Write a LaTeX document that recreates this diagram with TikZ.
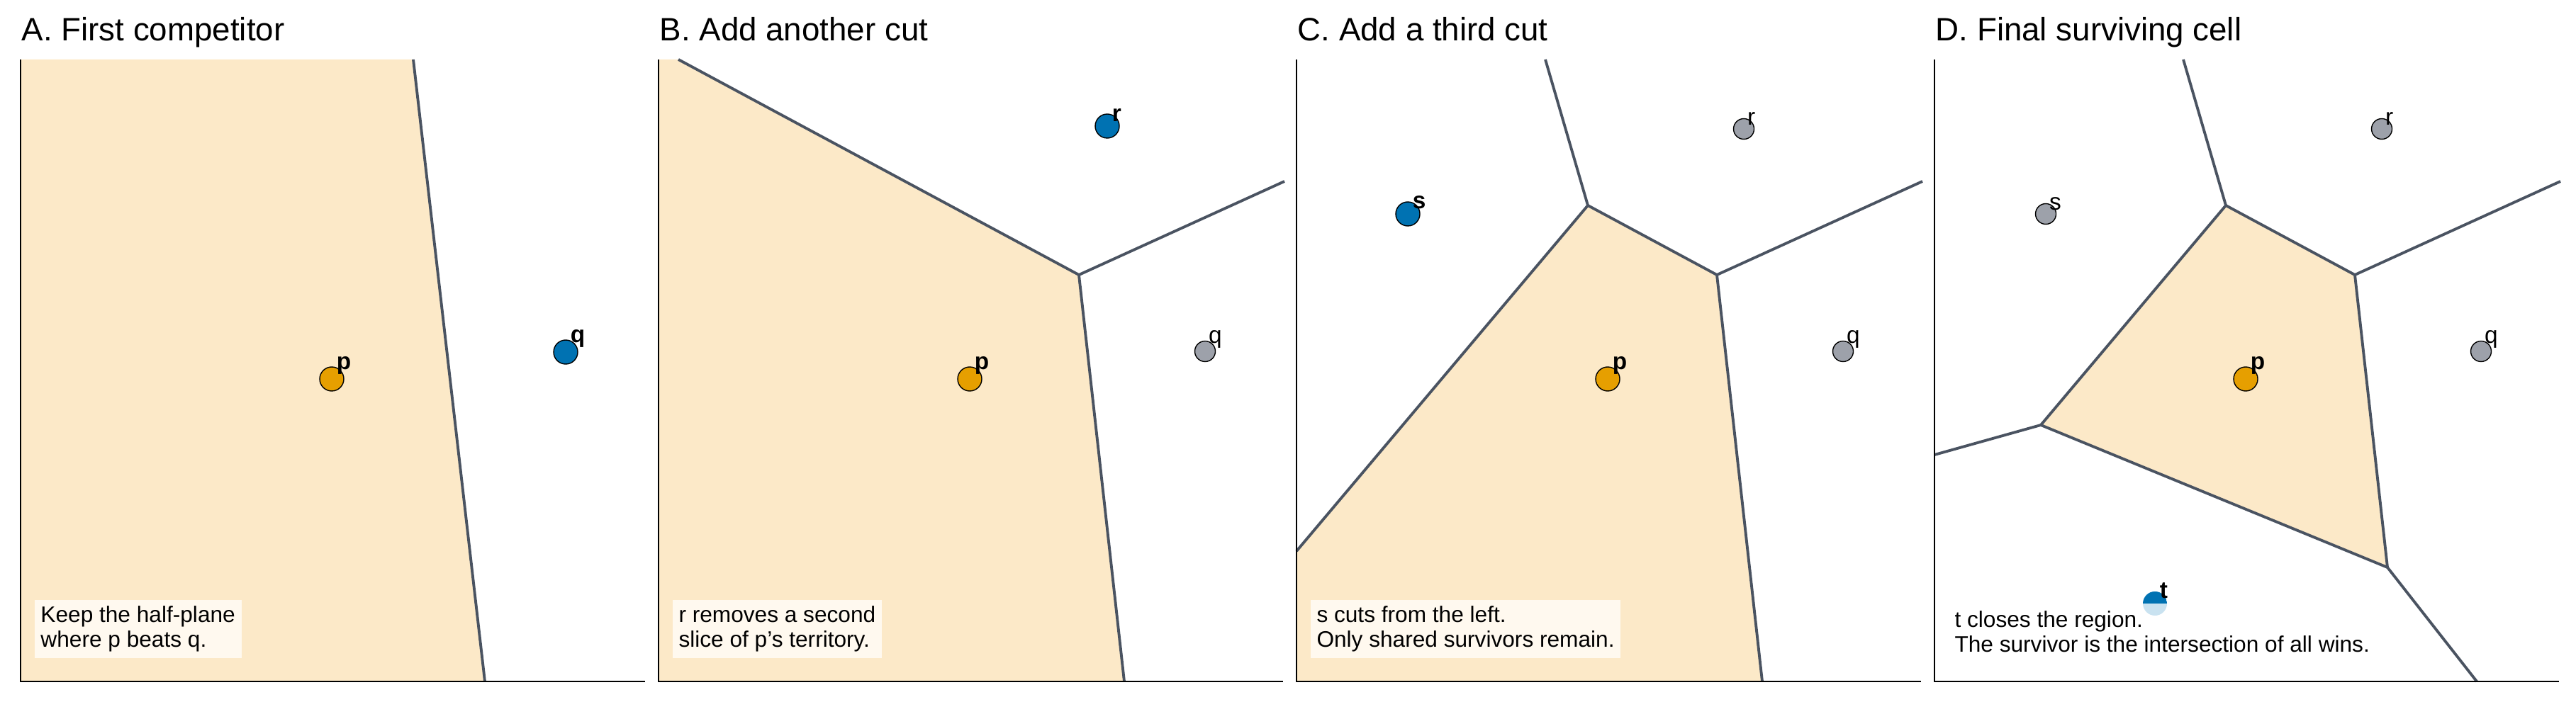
\documentclass[tikz,border=0pt]{standalone}
\usepackage{fontspec}
\setmainfont{Liberation Sans}
\usetikzlibrary{positioning}

\definecolor{cellcol}{HTML}{FCE9C8}
\definecolor{cutcol}{HTML}{4A5361}
\definecolor{pcol}{HTML}{E69F00}
\definecolor{newcol}{HTML}{0072B2}
\definecolor{newlight}{HTML}{C9E2F0}
\definecolor{oldcol}{HTML}{9DA1AA}
\definecolor{notecol}{HTML}{FFF9EF}

\tikzset{
    cellfill/.style={fill=cellcol, draw=none},
    cut/.style={draw=cutcol, line width=1.1pt, line join=round},
    frameline/.style={draw=black, line width=0.6pt},
    site/.style={circle, draw=black, line width=0.4pt, inner sep=0pt, minimum size=0.34cm},
    oldsite/.style={circle, draw=black, line width=0.4pt, inner sep=0pt, minimum size=0.29cm, fill=oldcol},
    sitelab/.style={font=\fontsize{9.5}{10}\selectfont\bfseries, inner sep=1pt},
    oldlab/.style={font=\fontsize{9.5}{10}\selectfont, inner sep=1pt},
    note/.style={fill=notecol, align=left, inner sep=2.5pt, anchor=south west,
        font=\fontsize{9}{10}\selectfont},
    paneltitle/.style={anchor=base west, font=\fontsize{13}{14}\selectfont, inner sep=0pt}
}

\begin{document}
\begin{tikzpicture}
    \useasboundingbox (0,0) rectangle (36.34,9.90);

    %Panel A
    \begin{scope}
        \coordinate (aTop) at (5.83,9.06);
        \coordinate (aBot) at (6.84,0.28);
        \fill[cellfill] (0.29,0.28) -- (0.29,9.06) -- (aTop) -- (aBot) -- cycle;
        \draw[cut] (aTop) -- (aBot);
        \draw[frameline] (0.29,9.06) -- (0.29,0.28) -- (9.1,0.28);
        \node[paneltitle] (aTitle) at (0.3,9.32) {A. First competitor};
        \node[site, fill=pcol, label={[sitelab, label distance=-4pt]45:p}] (aP) at (4.68,4.55) {};
        \node[site, fill=newcol, label={[sitelab, label distance=-4pt]45:q}] (aQ) at (7.98,4.93) {};
        \node[note] (aNote) at (0.48,0.6) {Keep the half-plane\\where p beats q.};
    \end{scope}

    %Panel B
    \begin{scope}[xshift=9.0cm]
        \coordinate (bTop) at (0.57,9.06);
        \coordinate (bV) at (6.22,6.02);
        \coordinate (bRight) at (9.12,7.34);
        \coordinate (bBot) at (6.86,0.28);
        \fill[cellfill] (0.29,0.28) -- (0.29,9.06) -- (bTop) -- (bV) -- (bBot) -- cycle;
        \draw[cut] (bTop) -- (bV) -- (bBot);
        \draw[cut] (bV) -- (bRight);
        \draw[frameline] (0.29,9.06) -- (0.29,0.28) -- (9.1,0.28);
        \node[paneltitle] (bTitle) at (0.3,9.32) {B. Add another cut};
        \node[site, fill=pcol, label={[sitelab, label distance=-4pt]45:p}] (bP) at (4.68,4.55) {};
        \node[oldsite, label={[oldlab, label distance=-4pt]45:q}] (bQ) at (8.0,4.94) {};
        \node[site, fill=newcol, label={[sitelab, label distance=-4pt]45:r}] (bR) at (6.62,8.12) {};
        \node[note] (bNote) at (0.48,0.6) {r removes a second\\slice of p's territory.};
    \end{scope}

    %Panel C
    \begin{scope}[xshift=18.0cm]
        \coordinate (cTop) at (3.80,9.06);
        \coordinate (cV1) at (4.40,7.00);
        \coordinate (cV2) at (6.22,6.02);
        \coordinate (cRight) at (9.12,7.34);
        \coordinate (cBot) at (6.86,0.28);
        \coordinate (cLeft) at (0.29,2.12);
        \fill[cellfill] (0.29,0.28) -- (cLeft) -- (cV1) -- (cV2) -- (cBot) -- cycle;
        \draw[cut] (cTop) -- (cV1) -- (cV2) -- (cBot);
        \draw[cut] (cLeft) -- (cV1);
        \draw[cut] (cV2) -- (cRight);
        \draw[frameline] (0.29,9.06) -- (0.29,0.28) -- (9.1,0.28);
        \node[paneltitle] (cTitle) at (0.3,9.32) {C. Add a third cut};
        \node[site, fill=pcol, label={[sitelab, label distance=-4pt]45:p}] (cP) at (4.68,4.55) {};
        \node[oldsite, label={[oldlab, label distance=-4pt]45:q}] (cQ) at (8.0,4.94) {};
        \node[oldsite, label={[oldlab, label distance=-4pt]45:r}] (cR) at (6.6,8.08) {};
        \node[site, fill=newcol, label={[sitelab, label distance=-4pt]45:s}] (cS) at (1.86,6.88) {};
        \node[note] (cNote) at (0.48,0.6) {s cuts from the left.\\Only shared survivors remain.};
    \end{scope}

    %Panel D
    \begin{scope}[xshift=27.0cm]
        \coordinate (dTop) at (3.80,9.06);
        \coordinate (dV1) at (4.40,7.00);
        \coordinate (dV2) at (6.22,6.02);
        \coordinate (dV3) at (6.68,1.89);
        \coordinate (dV4) at (1.79,3.90);
        \coordinate (dRight) at (9.12,7.34);
        \coordinate (dBot) at (7.94,0.28);
        \coordinate (dLeft) at (0.29,3.48);
        \fill[cellfill] (dV1) -- (dV2) -- (dV3) -- (dV4) -- cycle;
        \draw[cut] (dV1) -- (dV2) -- (dV3) -- (dV4) -- cycle;
        \draw[cut] (dTop) -- (dV1);
        \draw[cut] (dV2) -- (dRight);
        \draw[cut] (dV3) -- (dBot);
        \draw[cut] (dV4) -- (dLeft);
        \draw[frameline] (0.29,9.06) -- (0.29,0.28) -- (9.1,0.28);
        \node[paneltitle] (dTitle) at (0.3,9.32) {D. Final surviving cell};
        \node[site, fill=pcol, label={[sitelab, label distance=-4pt]45:p}] (dP) at (4.68,4.55) {};
        \node[oldsite, label={[oldlab, label distance=-4pt]45:q}] (dQ) at (8.0,4.94) {};
        \node[oldsite, label={[oldlab, label distance=-4pt]45:r}] (dR) at (6.6,8.08) {};
        \node[oldsite, label={[oldlab, label distance=-4pt]45:s}] (dS) at (1.86,6.88) {};
        \node[site, draw=none, fill=newlight,
            path picture={\fill[newcol] (path picture bounding box.west) rectangle (path picture bounding box.north east);},
            label={[sitelab, label distance=-4pt]45:t}] (dT) at (3.40,1.38) {};
        \node[note, fill=none] (dNote) at (0.48,0.6) {t closes the region.\\The survivor is the intersection of all wins.};
    \end{scope}
\end{tikzpicture}
\end{document}
